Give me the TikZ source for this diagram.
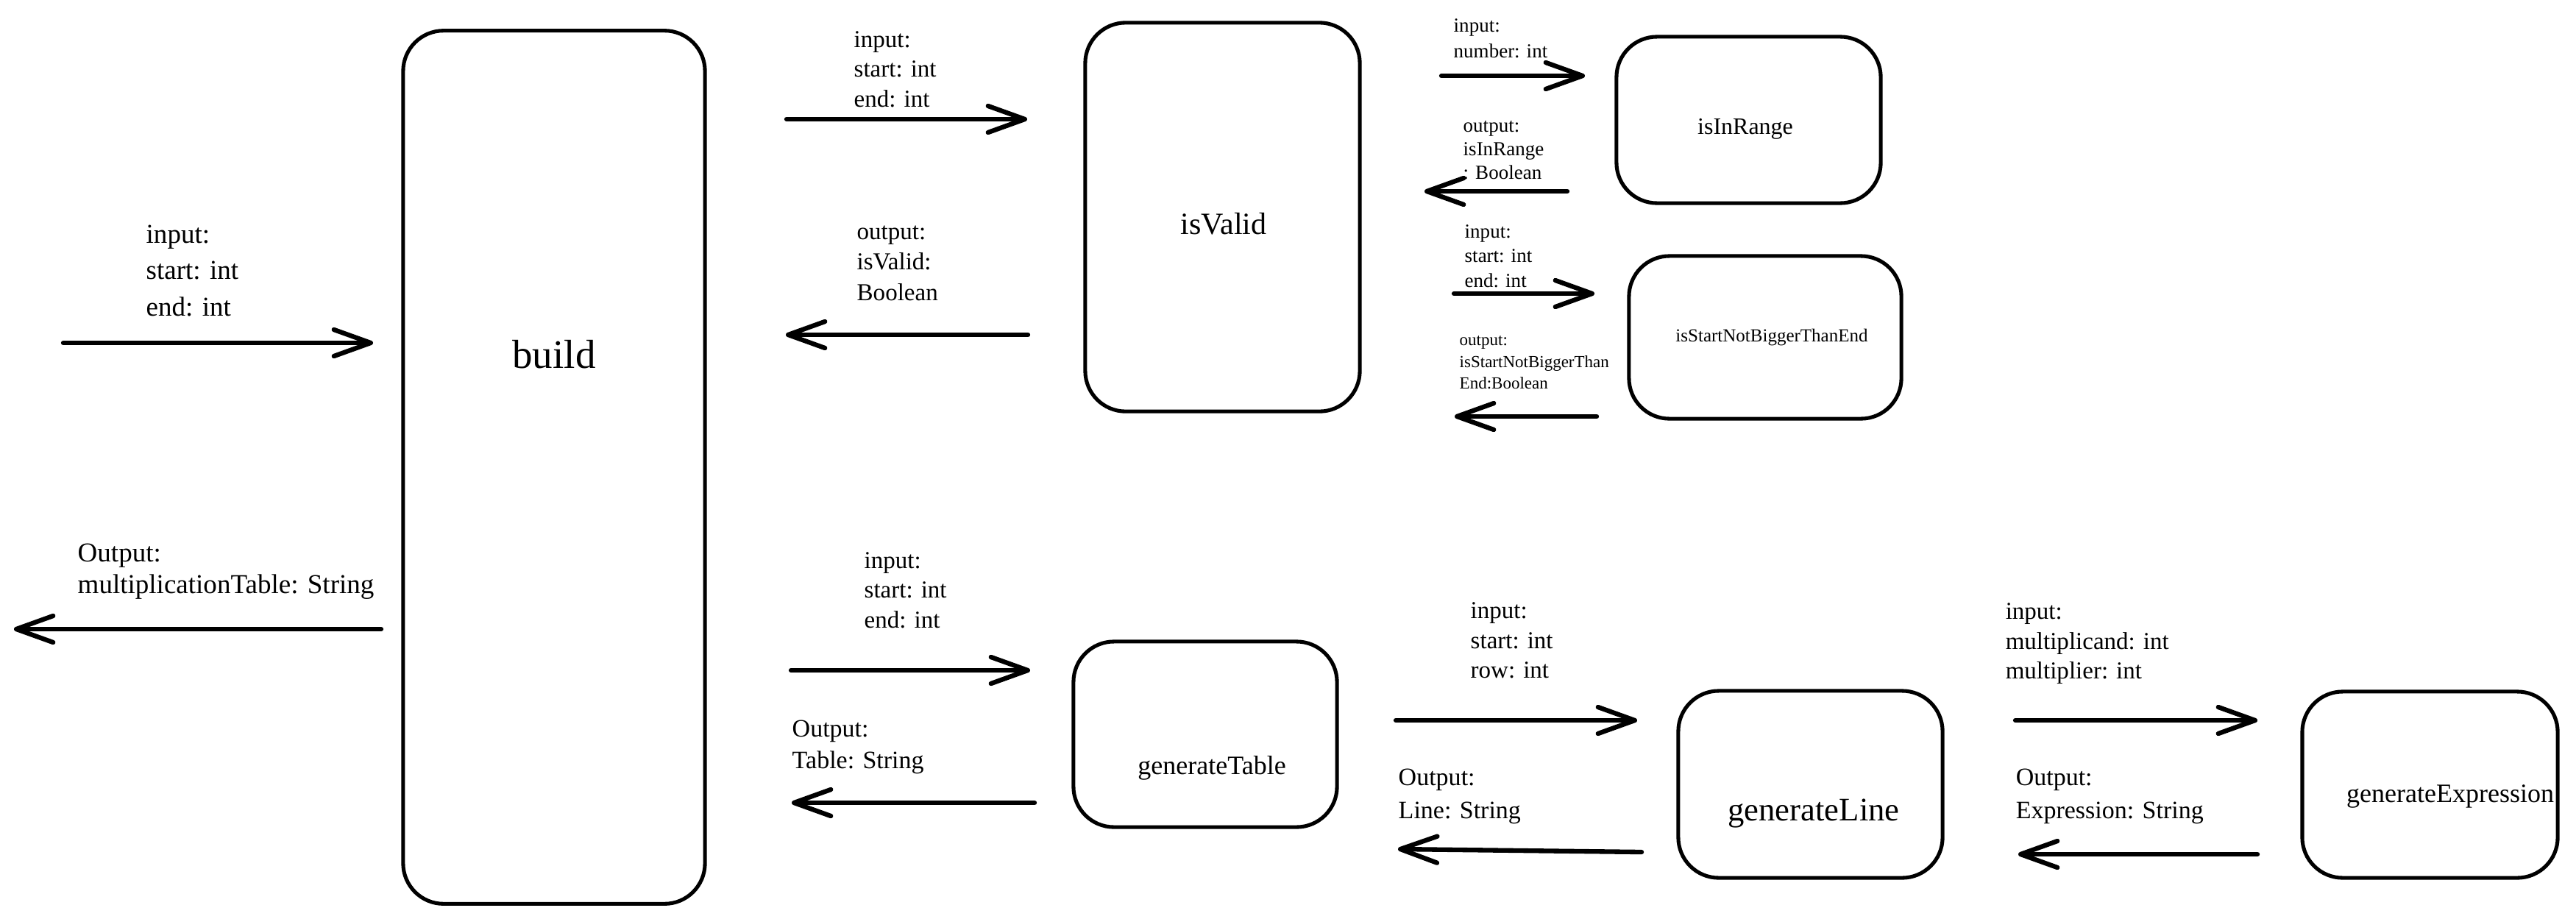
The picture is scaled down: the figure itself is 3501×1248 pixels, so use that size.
\documentclass[tikz,border=0pt]{standalone}
\usepackage{fontspec}
\setmainfont{Liberation Serif}
\usetikzlibrary{arrows.meta}
\begin{document}
\begin{tikzpicture}[x=0.01cm,y=-0.01cm,
  box/.style={draw, line width=1.45pt, rounded corners=0.55cm, inner sep=0pt},
  flow/.style={line width=1.8pt, line cap=round, line join=round,
    -{Straight Barb[length=0.5cm,width=0.36cm,line cap=round,line join=round]}},
  lbl/.style={inner sep=0pt, anchor=base west, align=left},
  fsz/.style n args={2}{font=\fontsize{#1}{#2}\selectfont},
  title/.style={inner sep=0pt},
]
\useasboundingbox (0,0) rectangle (3501,1248);

% boxes
\node[box, minimum width=4.10cm, minimum height=11.86cm] (build) at (753,635) {};
\node[title, fsz={15.65pt}{18pt}] (buildT) at (753,482) {build};

\node[box, minimum width=3.73cm, minimum height=5.28cm] (isValid) at (1661.5,295) {};
\node[title, fsz={11.95pt}{14pt}] (isValidT) at (1663,304) {isValid};

\node[box, minimum width=3.59cm, minimum height=2.26cm] (isInRange) at (2376.5,163) {};
\node[title, fsz={9.1pt}{11pt}] (isInRangeT) at (2372,175) {isInRange};

\node[box, minimum width=3.70cm, minimum height=2.21cm] (isStart) at (2399,458.5) {};
\node[title, fsz={7.11pt}{9pt}] (isStartT) at (2408,459) {isStartNotBiggerThanEnd};

\node[box, minimum width=3.58cm, minimum height=2.52cm] (genTable) at (1638,998) {};
\node[title, fsz={10.24pt}{12pt}] (genTableT) at (1647,1044) {generateTable};

\node[box, minimum width=3.59cm, minimum height=2.54cm] (genLine) at (2460.5,1066) {};
\node[title, fsz={12.7pt}{15pt}] (genLineT) at (2465,1106) {generateLine};

\node[box, minimum width=3.47cm, minimum height=2.53cm] (genExpr) at (3302.5,1066.5) {};
\node[title, fsz={10.24pt}{12pt}] (genExprT) at (3330,1082) {generateExpression};

% arrow end points
\coordinate (a1s) at (86,466);   \coordinate (a1e) at (507,466);
\coordinate (a2s) at (518,855);  \coordinate (a2e) at (19,855);
\coordinate (a3s) at (1069,162); \coordinate (a3e) at (1396,162);
\coordinate (a4s) at (1397,455); \coordinate (a4e) at (1068,455);
\coordinate (a5s) at (1959,103); \coordinate (a5e) at (2154,103);
\coordinate (a6s) at (2130,260); \coordinate (a6e) at (1936,260);
\coordinate (a7s) at (1976,399); \coordinate (a7e) at (2167,399);
\coordinate (a8s) at (2170,566); \coordinate (a8e) at (1977,566);
\coordinate (a9s) at (1075,911); \coordinate (a9e) at (1400,911);
\coordinate (a10s) at (1406,1091); \coordinate (a10e) at (1076,1091);
\coordinate (a11s) at (1897,979); \coordinate (a11e) at (2225,979);
\coordinate (a12s) at (2231,1158); \coordinate (a12e) at (1900,1154);
\coordinate (a13s) at (2739,979); \coordinate (a13e) at (3068,979);
\coordinate (a14s) at (3068,1161); \coordinate (a14e) at (2743,1161);

\foreach \i in {1,...,14} \draw[flow] (a\i s) -- (a\i e);

% labels (anchored at the baseline of their last line)
\node[lbl, fsz={10.53pt}{13.94pt}] (t1) at (198,429) {input:\\start: int\\end: int};
\node[lbl, fsz={10.53pt}{12.23pt}] (t2) at (105,806) {Output:\\multiplicationTable: String};
\node[lbl, fsz={9.39pt}{11.38pt}] (t3) at (1160,145) {input:\\start: int\\end: int};
\node[lbl, fsz={9.39pt}{11.67pt}] (t4) at (1164,408) {output:\\isValid:\\Boolean};
\node[lbl, fsz={7.68pt}{9.67pt}] (t5) at (1975,78) {input:\\number: int};
\node[lbl, fsz={7.68pt}{9.1pt}] (t6) at (1988,243) {output:\\isInRange\\: Boolean};
\node[lbl, fsz={7.68pt}{9.39pt}] (t7) at (1990,390) {input:\\start: int\\end: int};
\node[lbl, fsz={6.54pt}{8.25pt}] (t8) at (1983,528) {output:\\isStartNotBiggerThan\\End:Boolean};
\node[lbl, fsz={9.39pt}{11.38pt}] (t9) at (1174,853) {input:\\start: int\\end: int};
\node[lbl, fsz={9.67pt}{12.23pt}] (t10) at (1076,1044) {Output:\\Table: String};
\node[lbl, fsz={9.39pt}{11.38pt}] (t11) at (1998,921) {input:\\start: int\\row: int};
\node[lbl, fsz={9.67pt}{12.8pt}] (t12) at (1900,1112) {Output:\\Line: String};
\node[lbl, fsz={9.39pt}{11.38pt}] (t13) at (2725,922) {input:\\multiplicand: int\\multiplier: int};
\node[lbl, fsz={9.67pt}{12.52pt}] (t14) at (2739,1112) {Output:\\Expression: String};
\end{tikzpicture}
\end{document}
